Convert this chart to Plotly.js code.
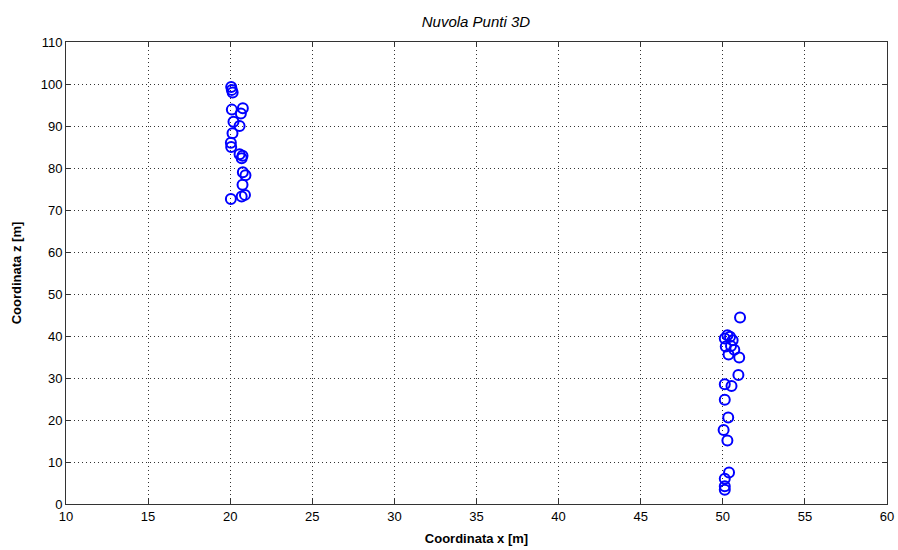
<!DOCTYPE html>
<html>
<head>
<meta charset="utf-8">
<script src="https://cdn.plot.ly/plotly-3.0.1.min.js"></script>
<style>html,body{margin:0;padding:0;background:#fff;}#chart{width:898px;height:550px;}</style>
</head>
<body>
<div id="chart"></div>
<script>
// Points of the cloud (x, z)
const xCoord = [
  20.06, 20.1, 20.15, 20.1, 20.77, 20.65, 20.2, 20.57, 20.14, 20.04, 20.06,
  20.57, 20.75, 20.7, 20.77, 20.93, 20.75, 20.04, 20.7, 20.9,
  51.05, 50.28, 50.44, 50.12, 50.6, 50.18, 50.5, 50.7, 50.35, 51.0, 50.95,
  50.12, 50.53, 50.12, 50.33, 50.05, 50.28, 50.38, 50.12, 50.12, 50.12
];
const zCoord = [
  99.3, 98.6, 98.0, 93.9, 94.2, 93.0, 91.0, 90.0, 88.3, 86.0, 85.0,
  83.3, 82.9, 82.3, 79.0, 78.3, 76.0, 72.6, 73.2, 73.6,
  44.4, 40.2, 39.8, 39.4, 39.0, 37.5, 37.6, 36.7, 35.6, 34.9, 30.7,
  28.5, 28.1, 24.8, 20.6, 17.6, 15.1, 7.5, 6.0, 4.2, 3.4
];
const xTicks = [10, 15, 20, 25, 30, 35, 40, 45, 50, 55, 60];
const zTicks = [0, 10, 20, 30, 40, 50, 60, 70, 80, 90, 100, 110];

const font = 'Liberation Sans, Arial, sans-serif';
const axisCommon = {
  showline: true, mirror: 'ticks', linecolor: '#333', linewidth: 1,
  ticks: 'inside', ticklen: 5, tickcolor: '#333',
  showgrid: true, gridcolor: '#333', griddash: '1px,3px', gridwidth: 1,
  zeroline: false, tickfont: {family: font, size: 13, color: '#000'},
  tickmode: 'array'
};

Plotly.newPlot('chart', [{
  type: 'scatter', mode: 'markers', x: xCoord, y: zCoord,
  marker: {symbol: 'circle-open', size: 10, color: '#0000ff', line: {width: 2, color: '#0000ff'}},
  hoverinfo: 'x+y'
}], {
  width: 898, height: 550,
  margin: {l: 66, r: 11, t: 42, b: 46},
  paper_bgcolor: '#fff', plot_bgcolor: '#fff',
  showlegend: false,
  title: {text: '<i>Nuvola Punti 3D</i>', font: {family: font, size: 15, color: '#000'}, x: 0.53, xanchor: 'center', y: 0.97, yanchor: 'top'},
  xaxis: Object.assign({}, axisCommon, {
    range: [10, 60], tickvals: xTicks, ticktext: xTicks.map(String),
    title: {text: '<b>Coordinata x [m]</b>', font: {family: font, size: 13, color: '#000'}, standoff: 11}
  }),
  yaxis: Object.assign({}, axisCommon, {
    range: [0, 110], tickvals: zTicks, ticktext: zTicks.map(String),
    title: {text: '<b>Coordinata z [m]</b>', font: {family: font, size: 13, color: '#000'}, standoff: 16}
  })
}, {displayModeBar: false, staticPlot: true});
</script>
</body>
</html>
